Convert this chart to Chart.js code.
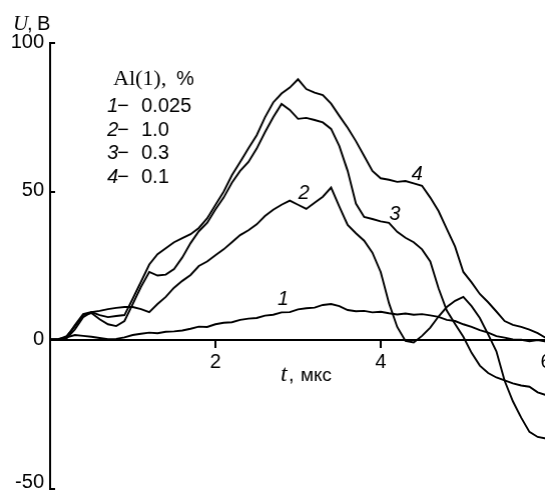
<!DOCTYPE html>
<html>
<head>
<meta charset="utf-8">
<script src="https://cdn.jsdelivr.net/npm/chart.js@4.4.1/dist/chart.umd.min.js"></script>
<style>
  html, body { margin: 0; padding: 0; background: #fff; overflow: hidden; }
  #wrap { position: absolute; left: 0; top: 0; width: 556px; height: 511px; }
</style>
</head>
<body>
<div id="wrap"><canvas id="pulseChart"></canvas></div>
<script>
// time axis, mks
const times = [
  0.0, 0.1, 0.2, 0.3, 0.4, 0.5, 0.6, 0.7, 0.8, 0.9,
  1.0, 1.1, 1.2, 1.3, 1.4, 1.5, 1.6, 1.7, 1.8, 1.9,
  2.0, 2.1, 2.2, 2.3, 2.4, 2.5, 2.6, 2.7, 2.8, 2.9,
  3.0, 3.1, 3.2, 3.3, 3.4, 3.5, 3.6, 3.7, 3.8, 3.9,
  4.0, 4.1, 4.2, 4.3, 4.4, 4.5, 4.6, 4.7, 4.8, 4.9,
  5.0, 5.1, 5.2, 5.3, 5.4, 5.5, 5.6, 5.7, 5.8, 5.9,
  6.0
];

// U, V  (curve 1: Al 0.025 %)
const u1 = [
  0.3, 0.5, 1.0, 1.8, 1.5, 1.2, 0.8, 0.4, 0.5, 1.0,
  1.8, 2.2, 2.6, 2.4, 2.9, 3.0, 3.3, 3.9, 4.6, 4.5,
  5.4, 5.9, 6.1, 6.9, 7.3, 7.5, 8.3, 8.6, 9.4, 9.5,
  10.4, 10.8, 11.0, 11.9, 12.2, 11.5, 10.2, 9.8, 9.9, 9.4,
  9.6, 9.1, 8.7, 9.0, 8.6, 8.8, 8.4, 7.9, 6.9, 6.5,
  5.4, 4.5, 3.4, 2.6, 1.4, 0.9, 0.3, 0.2, -0.3, 0.1,
  -0.4
];
// curve 2: Al 1.0 %
const u2 = [
  0.3, 0.3, 0.7, 3.7, 7.8, 9.5, 9.9, 10.5, 10.9, 11.2,
  11.2, 10.5, 9.5, 12.2, 14.6, 17.7, 20.0, 22.0, 25.0, 26.5,
  28.6, 30.6, 33.0, 35.4, 37.0, 39.0, 41.8, 43.9, 45.6, 47.0,
  45.6, 44.2, 46.3, 48.3, 51.4, 45.0, 38.8, 36.0, 33.5, 29.5,
  23.0, 12.5, 4.5, -0.2, -0.7, 1.5, 4.3, 8.0, 11.2, 13.3,
  14.6, 11.5, 7.5, 2.0, -3.7, -13.6, -20.5, -26.0, -30.8, -32.5,
  -33.0
];
// curve 3: Al 0.3 %
const u3 = [
  0.2, 0.3, 1.4, 4.8, 8.5, 9.2, 7.1, 5.4, 4.8, 6.5,
  12.2, 18.0, 23.0, 21.8, 22.1, 24.0, 27.9, 32.7, 36.7, 39.5,
  44.0, 48.0, 53.0, 57.0, 60.0, 64.5, 70.0, 75.0, 79.5, 77.5,
  74.5, 74.8, 74.1, 73.3, 71.1, 65.3, 57.0, 46.0, 41.5, 40.8,
  40.0, 39.5, 36.5, 34.5, 33.0, 30.6, 26.5, 17.5, 10.0, 5.5,
  1.2, -4.2, -8.5, -11.0, -12.5, -13.5, -14.5, -15.2, -15.6, -17.5,
  -18.4
];
// curve 4: Al 0.1 %
const u4 = [
  0.3, 0.2, 1.0, 5.1, 8.8, 9.5, 8.5, 7.8, 8.2, 8.5,
  14.0, 19.7, 25.5, 29.0, 31.0, 33.0, 34.4, 35.7, 37.8, 41.0,
  45.5, 50.0, 55.5, 60.0, 64.6, 69.0, 75.0, 80.0, 83.0, 85.0,
  87.8, 84.5, 83.3, 82.5, 79.6, 75.5, 71.5, 67.0, 62.0, 57.0,
  54.5, 54.0, 53.3, 53.6, 52.8, 52.0, 48.0, 43.5, 37.5, 31.5,
  23.0, 19.5, 15.6, 12.8, 9.7, 6.5, 5.2, 4.5, 3.6, 2.4,
  0.8
];

const xTicks = [2, 4, 6];
const yTicks = [-50, 0, 50, 100];
const legendNums = ['1', '2', '3', '4'];
const legendVals = ['0.025', '1.0', '0.3', '0.1'];
// curve number labels, placed in data coordinates [t, U]
const curveLabels = [
  { text: '1', t: 2.82, u: 13.6 },
  { text: '2', t: 3.07, u: 49.3 },
  { text: '3', t: 4.17, u: 42.5 },
  { text: '4', t: 4.44, u: 55.8 }
];

const SANS = '"Liberation Sans", Arial, sans-serif';
const SERIF = '"Liberation Serif", "Times New Roman", serif';

function makeSeries(vals) {
  return {
    data: times.map((t, i) => ({ x: t, y: vals[i] })),
    borderColor: '#000',
    borderWidth: 1.9,
    pointRadius: 0,
    tension: 0,
    fill: false
  };
}

// Надписи: оси, легенда, номера кривых
const textPlugin = {
  id: 'texts',
  afterDraw(chart) {
    const c = chart.ctx;
    const xs = chart.scales.x;
    const ys = chart.scales.y;
    c.save();
    c.fillStyle = '#000';
    c.textBaseline = 'alphabetic';
    c.textAlign = 'left';
    const put = (str, font, x, y) => { c.font = font; c.fillText(str, x, y); };

    // y axis title
    put('U', 'italic 21px ' + SERIF, 13, 30);
    put(',', '20px ' + SANS, 27, 30);
    put('В', '20px ' + SANS, 37, 30);

    // x axis title
    put('t', 'italic 24px ' + SERIF, 280, 381);
    put(',', '20px ' + SANS, 288, 381);
    put('мкс', '19px ' + SANS, 300, 381);

    // legend block
    put('Al(1),', '22px ' + SERIF, 113, 85);
    put('%', '20px ' + SANS, 176, 85);
    legendNums.forEach((n, i) => {
      const y = 112 + i * 23.7;
      put(n, 'italic 20px ' + SANS, 107, y);
      put('\u2212', '20px ' + SANS, 117, y);
      put(legendVals[i], '20px ' + SANS, 141, y);
    });

    // lowest y tick label sits just above its tick (window edge)
    c.textAlign = 'right';
    c.textBaseline = 'middle';
    put(String(yTicks[0]), '20px ' + SANS, 44, ys.getPixelForValue(yTicks[0]) - 7);

    // curve numbers
    c.textAlign = 'center';
    curveLabels.forEach(l => {
      put(l.text, 'italic 20px ' + SANS, xs.getPixelForValue(l.t), ys.getPixelForValue(l.u));
    });
    c.restore();
  }
};

const ctx = document.getElementById('pulseChart').getContext('2d');
const chart = new Chart(ctx, {
  type: 'line',
  data: {
    datasets: [makeSeries(u1), makeSeries(u2), makeSeries(u3), makeSeries(u4)]
  },
  options: {
    responsive: true,
    maintainAspectRatio: false,
    animation: false,
    layout: { padding: { top: 43, left: 0, right: 0, bottom: 0 } },
    plugins: {
      legend: { display: false },
      tooltip: { enabled: false }
    },
    scales: {
      x: {
        type: 'linear',
        min: 0,
        max: 6,
        position: { y: 0 },
        afterBuildTicks: s => { s.ticks = xTicks.map(v => ({ value: v })); },
        grid: { drawOnChartArea: false, drawTicks: true, tickLength: 7, color: '#000', lineWidth: 2 },
        border: { display: true, color: '#000', width: 2 },
        ticks: { color: '#000', font: { family: SANS, size: 20 }, padding: 3, maxRotation: 0, autoSkip: false }
      },
      y: {
        min: -50,
        max: 100,
        afterBuildTicks: s => { s.ticks = yTicks.map(v => ({ value: v })); },
        afterFit: s => { s.width = 50; },
        grid: { drawOnChartArea: false, drawTicks: true, tickLength: -5, color: '#000', lineWidth: 2 },
        border: { display: true, color: '#000', width: 2 },
        ticks: {
          color: '#000',
          font: { family: SANS, size: 20 },
          padding: 11,
          labelOffset: -1,
          callback: v => (v === yTicks[0] ? '' : String(v))
        }
      }
    }
  },
  plugins: [textPlugin]
});

// подгонка: t = 6 на правом краю, -50 у нижнего края окна
const wrap = document.getElementById('wrap');
const area = chart.chartArea;
wrap.style.width = (556 + 545 - area.right) + 'px';
wrap.style.height = (511 + 489 - area.bottom) + 'px';
chart.resize();
</script>
</body>
</html>
